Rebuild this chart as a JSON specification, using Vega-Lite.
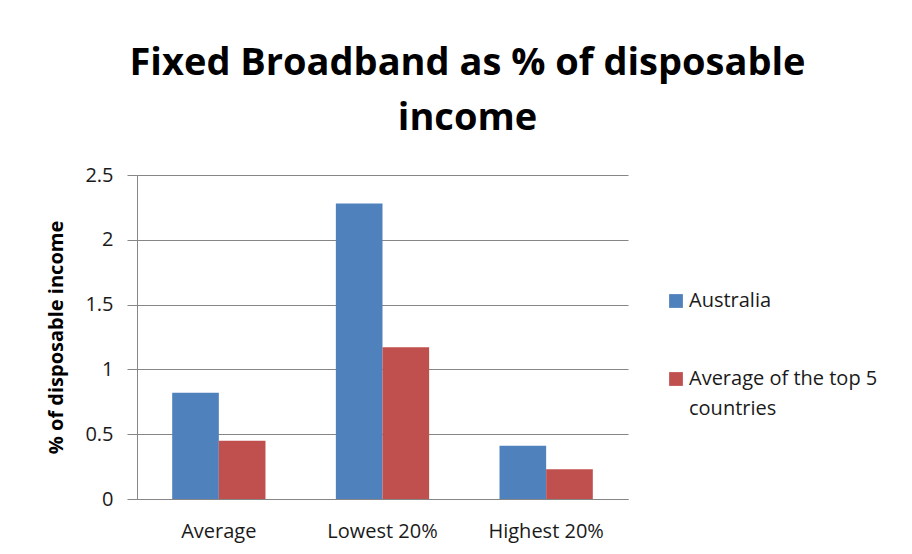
{
  "$schema": "https://vega.github.io/schema/vega-lite/v6.json",
  "autosize": {"type": "none"},
  "width": 491,
  "height": 324,
  "padding": {"left": 137, "top": 175, "right": 284, "bottom": 55},
  "background": "white",
  "title": {
    "text": ["Fixed Broadband as % of disposable", "income"],
    "font": "Open Sans",
    "fontSize": 38,
    "fontWeight": "bold",
    "color": "#000000",
    "anchor": "middle",
    "frame": "group",
    "dx": 85,
    "lineHeight": 55,
    "offset": 27
  },
  "data": {
    "values": [
      {"category": "Average", "series": "Australia", "value": 0.82},
      {"category": "Average", "series": "Average of the top 5 countries", "value": 0.45},
      {"category": "Lowest 20%", "series": "Australia", "value": 2.28},
      {"category": "Lowest 20%", "series": "Average of the top 5 countries", "value": 1.17},
      {"category": "Highest 20%", "series": "Australia", "value": 0.41},
      {"category": "Highest 20%", "series": "Average of the top 5 countries", "value": 0.23}
    ]
  },
  "mark": {"type": "bar"},
  "encoding": {
    "x": {
      "field": "category",
      "type": "nominal",
      "sort": ["Average", "Lowest 20%", "Highest 20%"],
      "scale": {"paddingInner": 0.43, "paddingOuter": 0.215},
      "axis": {
        "title": null,
        "labelAngle": 0,
        "labelFont": "Open Sans",
        "labelFontSize": 20,
        "labelColor": "#1a1a1a",
        "labelPadding": 22,
        "ticks": false,
        "domainColor": "#868686",
        "domainWidth": 1
      }
    },
    "xOffset": {
      "field": "series",
      "type": "nominal",
      "sort": ["Australia", "Average of the top 5 countries"],
      "scale": {"paddingInner": 0, "paddingOuter": 0}
    },
    "y": {
      "field": "value",
      "type": "quantitative",
      "scale": {"domain": [0, 2.5], "nice": false},
      "axis": {
        "title": "% of disposable income",
        "titleFont": "Open Sans",
        "titleFontSize": 20,
        "titleFontWeight": "bold",
        "titleColor": "#000000",
        "titlePadding": 18,
        "values": [0, 0.5, 1, 1.5, 2, 2.5],
        "format": ".1~f",
        "labelFont": "Open Sans",
        "labelFontSize": 20,
        "labelColor": "#1a1a1a",
        "labelPadding": 14,
        "tickSize": 10,
        "tickColor": "#868686",
        "domainColor": "#868686",
        "gridColor": "#868686",
        "grid": true
      }
    },
    "color": {
      "field": "series",
      "type": "nominal",
      "sort": ["Australia", "Average of the top 5 countries"],
      "scale": {"range": ["#4F81BD", "#C0504D"]},
      "legend": {
        "title": null,
        "orient": "none",
        "legendX": 529,
        "legendY": 116,
        "symbolType": "square",
        "symbolSize": 190,
        "symbolStrokeWidth": 0,
        "labelFont": "Open Sans",
        "labelFontSize": 20,
        "labelColor": "#1a1a1a",
        "labelOffset": 3,
        "rowPadding": 58,
        "labelLimit": 300,
        "labelExpr": "datum.label == 'Average of the top 5 countries' ? ['Average of the top 5', 'countries'] : datum.label",
        "encode": {"labels": {"update": {"lineHeight": {"value": 30}}}}
      }
    }
  },
  "config": {
    "view": {"stroke": null},
    "axis": {"gridWidth": 1}
  }
}
